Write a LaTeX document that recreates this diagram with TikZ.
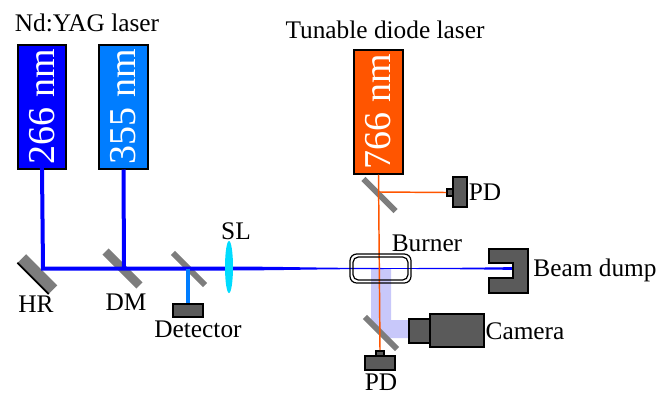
\documentclass[tikz,border=0pt]{standalone}
\usepackage{fontspec}
\setmainfont{Liberation Serif}
\usetikzlibrary{calc,shapes.geometric}
\definecolor{uvblue}{RGB}{0,0,255}
\definecolor{midblue}{RGB}{0,125,255}
\definecolor{laserred}{RGB}{255,85,0}
\definecolor{housing}{RGB}{90,90,90}
\definecolor{mirrorgray}{RGB}{125,125,125}
\definecolor{lightpath}{RGB}{200,200,250}
\definecolor{lenscyan}{RGB}{0,220,255}
\tikzset{
    laser/.style = {draw=black, line width=1.5pt, rotate=90, minimum width=93pt,
        minimum height=36.5pt, inner sep=0pt, text=white, font=\fontsize{28.5}{28.5}\selectfont},
    label/.style = {font=\fontsize{19}{19}\selectfont, inner sep=0pt},
    housed/.style = {draw=black, fill=housing, line width=1.2pt, inner sep=0pt},
    mirror/.style = {draw=none, fill=mirrorgray, rotate=-45, inner sep=0pt},
    uvbeam/.style = {draw=uvblue, line width=3pt}
}
\begin{document}
\begin{tikzpicture}[x=.75pt, y=-.75pt]
    \useasboundingbox (0,0) rectangle (659,393);
    % collected light
    \fill[lightpath] (371,268) -- (391,268) -- (391,320) -- (410,320) -- (410,338) -- (386,338) -- (371,323) -- cycle;
    % mirrors
    \node[mirror, minimum width=33pt, minimum height=9pt] (hr) at (37.5,274) {};
    \node[mirror, minimum width=36pt, minimum height=6.5pt] (dm) at (122.5,268.5) {};
    \node[mirror, minimum width=34pt, minimum height=4.5pt] (bs) at (189,269) {};
    \node[mirror, minimum width=34pt, minimum height=4.5pt] (ms) at (379.5,195) {};
    \node[mirror, minimum width=34pt, minimum height=4.5pt] (ml) at (381,333) {};
    \draw[black, line width=1.2pt] (hr.south west) -- (hr.south east);
    % lasers
    \node[laser, fill=uvblue] (l266) at (42,106.5) {266 nm};
    \node[laser, fill=midblue] (l355) at (123.5,106.5) {355 nm};
    \node[laser, fill=laserred] (l766) at (378.5,111.5) {766 nm};
    \node[label] (yag) at (87,23) {Nd:YAG laser};
    \node[label] (tdl) at (385,30) {Tunable diode laser};
    % detectors
    \node[housed, minimum width=22.5pt, minimum height=9.75pt] (det) at (188,310.5) {};
    \node[housed, minimum width=10.5pt, minimum height=22.5pt] (pdt) at (460,192) {};
    \node[housed, minimum width=4.5pt, minimum height=5pt] (pdts) at (450,192.5) {};
    \node[housed, minimum width=22.5pt, minimum height=10.5pt] (pdb) at (380,363) {};
    \node[housed, minimum width=6pt, minimum height=4pt] (pdbs) at (380,353.5) {};
    % beams
    \coordinate (hrc) at (43,268.5);
    \coordinate (dmc) at (124,268.5);
    \coordinate (bsc) at (188,268.5);
    \coordinate (slc) at (229,268.5);
    \draw[uvbeam, line cap=rect] (l266.west) -- (hrc) -- (bsc) -- (slc);
    \draw[uvbeam] (l355.west) -- (dmc);
    \draw[draw=midblue, line width=3pt] (bsc) -- (det.north);
    \fill[uvblue] (229,266.5) -- (270,266.8) -- (330,267.7) -- (400,268.1) -- (470,267.7) -- (514,267.1) -- (514,269.9) -- (470,269.3) -- (400,268.9) -- (330,269.3) -- (270,270.2) -- (229,270.5) -- cycle;
    \draw[laserred, line width=1.1pt] (l766.west) -- (pdbs.north);
    \draw[laserred, line width=1.1pt] (380,192) -- (pdts.west);
    % lens
    \node[fill=lenscyan, ellipse, minimum width=6pt, minimum height=39pt, inner sep=0pt] (sl) at (229,267) {};
    % burner
    \draw[black, line width=.9pt, rounded corners=5pt] (350,254) rectangle (411,283);
    \draw[black, line width=.9pt, rounded corners=4pt] (353,257) rectangle (408,280);
    % camera
    \node[housed, minimum width=40.5pt, minimum height=25pt] (cam) at (457,330.5) {};
    \node[housed, minimum width=16pt, minimum height=18pt] (lens) at (419.5,331) {};
    % beam dump
    \fill[housing, draw=black, line width=1.2pt] (489,249) -- (528,249) -- (528,293) -- (489,293) -- (489,278) -- (513,278) -- (513,263) -- (489,263) -- cycle;
    % labels
    \node[label] (hrl) at (36,304) {HR};
    \node[label] (dml) at (126,302) {DM};
    \node[label] (detl) at (198,329) {Detector};
    \node[label] (sll) at (236,231) {SL};
    \node[label] (brn) at (427,243) {Burner};
    \node[label] (bdl) at (595,270) {Beam dump};
    \node[label] (caml) at (525,331) {Camera};
    \node[label] (pdtl) at (485,192) {PD};
    \node[label] (pdbl) at (381,382.5) {PD};
\end{tikzpicture}
\end{document}
